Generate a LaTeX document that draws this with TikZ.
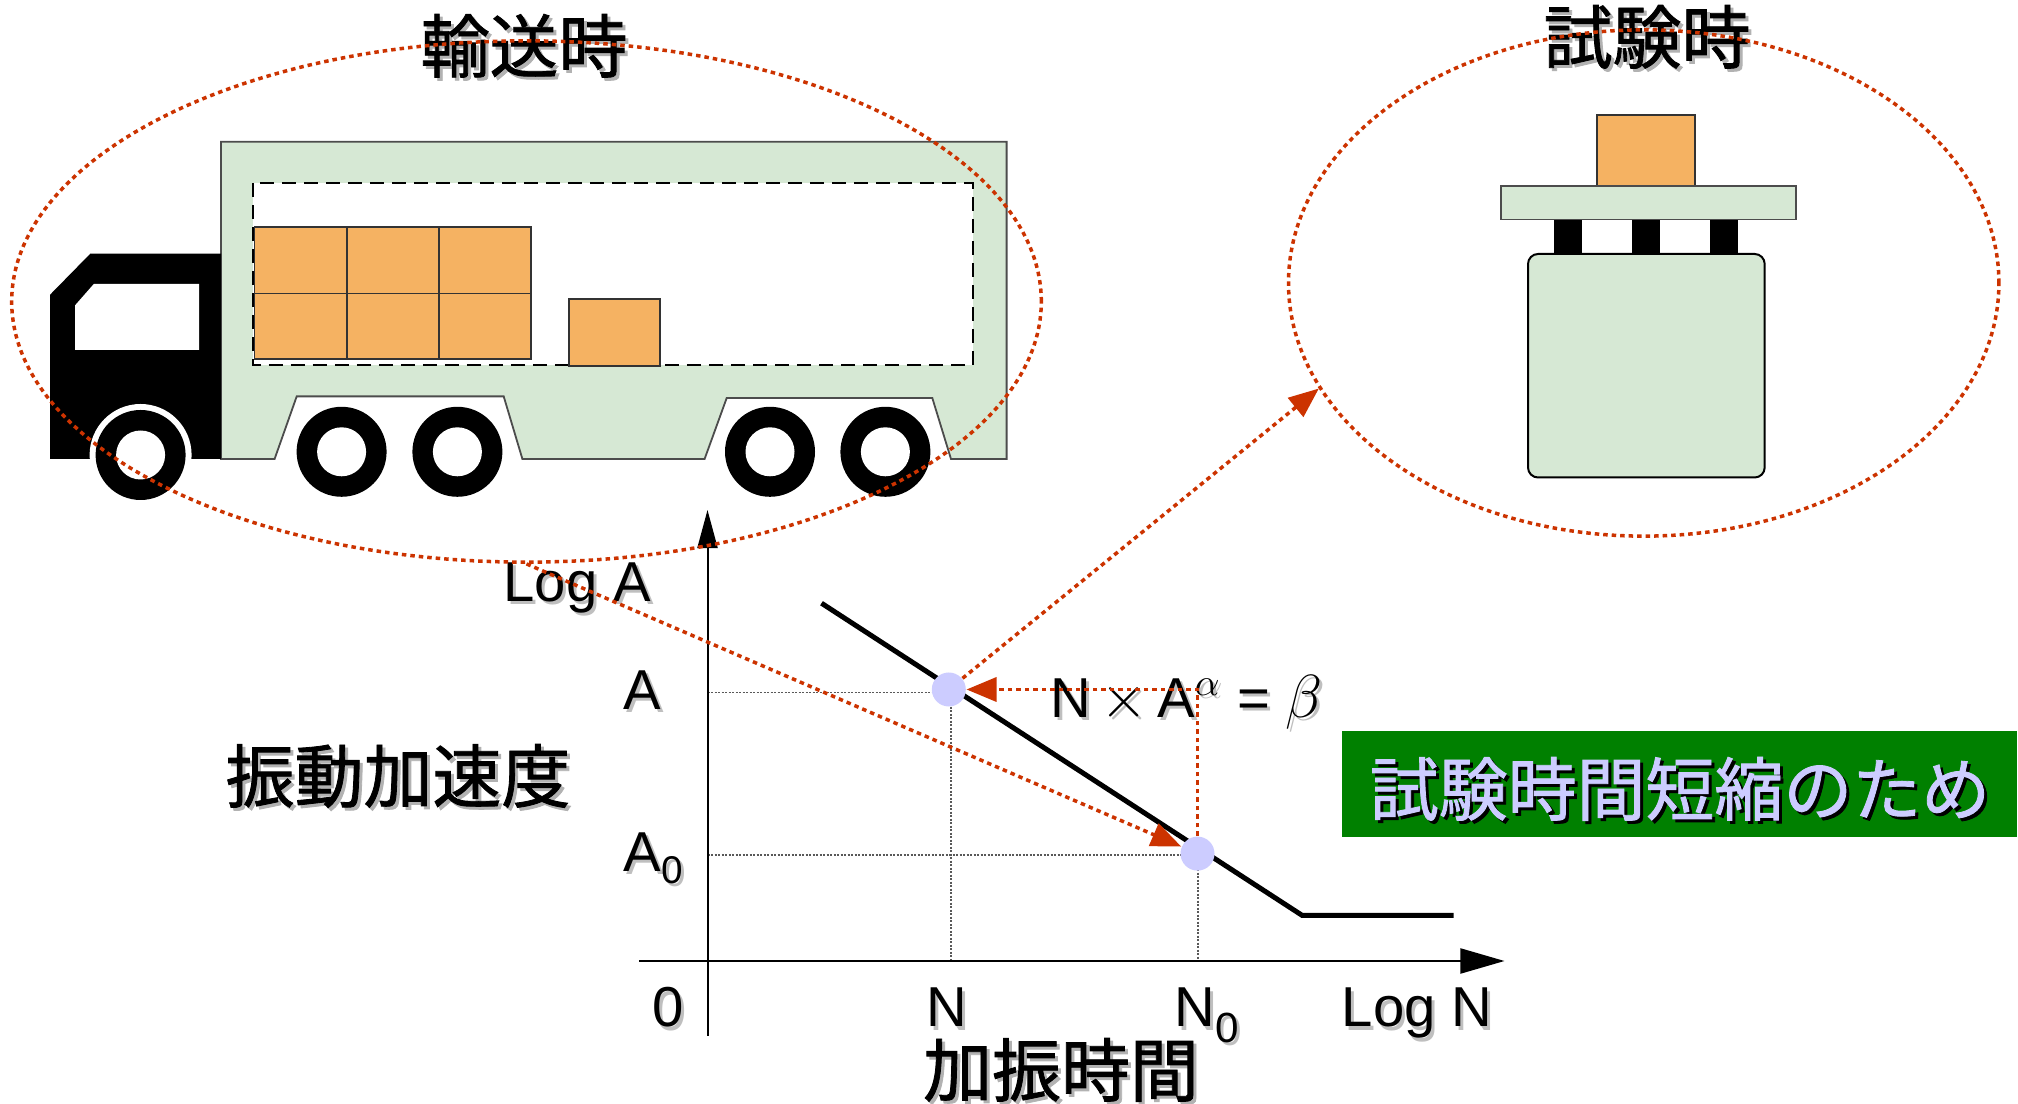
\documentclass[tikz,border=0pt]{standalone}
\usepackage{fontspec}
\setmainfont{Liberation Sans}
\newfontfamily\jpfont[FakeBold=1.2]{Noto Sans CJK JP}
\usetikzlibrary{arrows.meta,shapes.geometric}

\definecolor{linkred}{RGB}{204,51,0}
\definecolor{paleGreen}{RGB}{214,232,212}
\definecolor{crateOrange}{RGB}{245,178,98}
\definecolor{dotBlue}{RGB}{204,204,255}
\definecolor{bannerGreen}{RGB}{0,128,0}

% text with a soft drop shadow: style, shadow colour, name, position, text
\newcommand\shadowed[5]{%
  \node[#1, text=#2, xshift=0.03cm, yshift=-0.03cm] at #4 {#5};
  \node[#1] (#3) at #4 {#5};}

\begin{document}
\begin{tikzpicture}[x=0.01cm,y=-0.01cm,
  reddot/.style={draw=linkred, line width=0.035cm, dash pattern=on 0.045cm off 0.04cm},
  redarrow/.style={reddot, -{Triangle[length=0.3cm,width=0.24cm]}},
  guide/.style={draw=black!65, line width=0.015cm, dash pattern=on 0.02cm off 0.015cm},
  axis/.style={draw=black, line width=0.02cm},
  body/.style={fill=paleGreen, draw=black!70, line width=0.018cm},
  crate/.style={fill=crateOrange, draw=black!80, line width=0.018cm},
  point/.style={circle, fill=dotBlue, minimum size=0.34cm, inner sep=0pt},
  lbl/.style={font=\fontsize{16pt}{16pt}\selectfont, inner sep=0pt, anchor=base west},
  jp/.style={font=\jpfont\fontsize{19.6pt}{20pt}\selectfont, inner sep=0pt,
    text height=0.8em, text depth=0pt, anchor=base},
  ring/.style={draw=linkred, line width=0.035cm, dash pattern=on 0.045cm off 0.04cm,
    ellipse, inner sep=0pt}
]
\useasboundingbox (0,0) rectangle (2018,1104);

% ---------- truck ----------
\draw[body] (221,141.8) -- (1006.6,141.8) -- (1006.6,459) -- (951,459) -- (932.3,398)
  -- (726.7,398) -- (704.6,459) -- (522.4,459) -- (503.7,396.4) -- (296.7,396.4)
  -- (274.6,459) -- (221,459) -- cycle;
\draw[fill=white, draw=black, line width=0.02cm, dash pattern=on 0.14cm off 0.08cm]
  (253,183) rectangle (972.5,365.4);
\foreach \xa/\xb in {254.5/347,347/439,439/531}{
  \draw[crate] (\xa,226.8) rectangle (\xb,293.6);
  \draw[crate] (\xa,293.6) rectangle (\xb,359);
}
\draw[crate] (569,299) rectangle (660,366);
% cab
\fill[black] (50.2,459) -- (50.2,294.6) -- (90.4,253.6) -- (221,253.6) -- (221,459) -- cycle;
\fill[white] (75,305.4) -- (93.8,284) -- (199,284) -- (199,350) -- (75,350) -- cycle;
% wheels
\fill[white] (140.6,455) circle[radius=51];
\fill[black] (140.6,455) circle[radius=45];
\fill[white] (140.6,455) circle[radius=24.5];
\foreach \cx in {341.6,457.4,770,885.4}{
  \fill[black] (\cx,451.8) circle[radius=45];
  \fill[white] (\cx,451.8) circle[radius=24.5];
}

% ---------- shaker ----------
\draw[crate] (1596.7,115) rectangle (1695,185.7);
\draw[body] (1501,186) rectangle (1795.8,219.6);
\foreach \xa/\xb in {1553.9/1582,1632/1660,1710/1738}
  \fill[black] (\xa,219.6) rectangle (\xb,254);
\draw[body, draw=black, line width=0.02cm, rounded corners=0.1cm] (1528,254) rectangle (1764.7,477.5);

% ---------- graph ----------
\draw[guide] (707.5,692.6) -- (948.8,692.6);
\draw[guide] (707.5,855) -- (1197.5,855);
\draw[guide] (951,692.6) -- (951,961);
\draw[guide] (1198,855) -- (1198,961);
\draw[axis, -{Triangle[length=0.38cm,width=0.2cm]}] (707.5,1036) -- (707.5,510);
\draw[axis, -{Triangle[length=0.44cm,width=0.25cm]}] (639,961) -- (1504.5,961);
\draw[line width=0.05cm] (821.5,603.2) -- (1302,915.3) -- (1453.5,915.3);
\node[point] (pA) at (948.8,689.5) {};
\node[point] (pA0) at (1197.5,853.6) {};

\shadowed{lbl}{black!25}{logA}{(503,602)}{Log A}
\shadowed{lbl}{black!25}{labA}{(623,710)}{A}
\shadowed{lbl}{black!25}{labAzero}{(623,871.7)}{A\raisebox{-0.12cm}{\fontsize{11pt}{11pt}\selectfont 0}}
\shadowed{lbl}{black!25}{labO}{(652,1027)}{0}
\shadowed{lbl}{black!25}{labN}{(926,1027)}{N}
\shadowed{lbl}{black!25}{labNzero}{(1174,1027)}{N\raisebox{-0.15cm}{\fontsize{12pt}{12pt}\selectfont 0}}
\shadowed{lbl}{black!25}{logN}{(1341,1027)}{Log N}
\shadowed{lbl}{black!25}{law}{(1050,717.6)}{N\,$\times$\,A$^{\alpha}$ = $\beta$}

% ---------- captions ----------
\shadowed{jp}{black!30}{tTransport}{(524,72)}{輸送時}
\shadowed{jp}{black!30}{tTest}{(1647,63)}{試験時}
\shadowed{jp}{black!30}{tAccel}{(398,802)}{振動加速度}
\shadowed{jp}{black!30}{tTime}{(1061,1096)}{加振時間}

\fill[bannerGreen] (1342,731) rectangle (2017,836.6);
\shadowed{jp, text=dotBlue}{black}{tBanner}{(1680,815)}{試験時間短縮のため}

% ---------- dotted outlines and links ----------
\node[ring, minimum width=10.29cm, minimum height=5.21cm] (transport) at (526.5,301.5) {};
\node[ring, minimum width=7.10cm, minimum height=5.06cm] (test) at (1643.7,283) {};
\draw[redarrow] (transport.south) -- (pA0);
\draw[redarrow] (pA0) |- (pA);
\draw[redarrow] (pA) -- (test.198);
\end{tikzpicture}
\end{document}
